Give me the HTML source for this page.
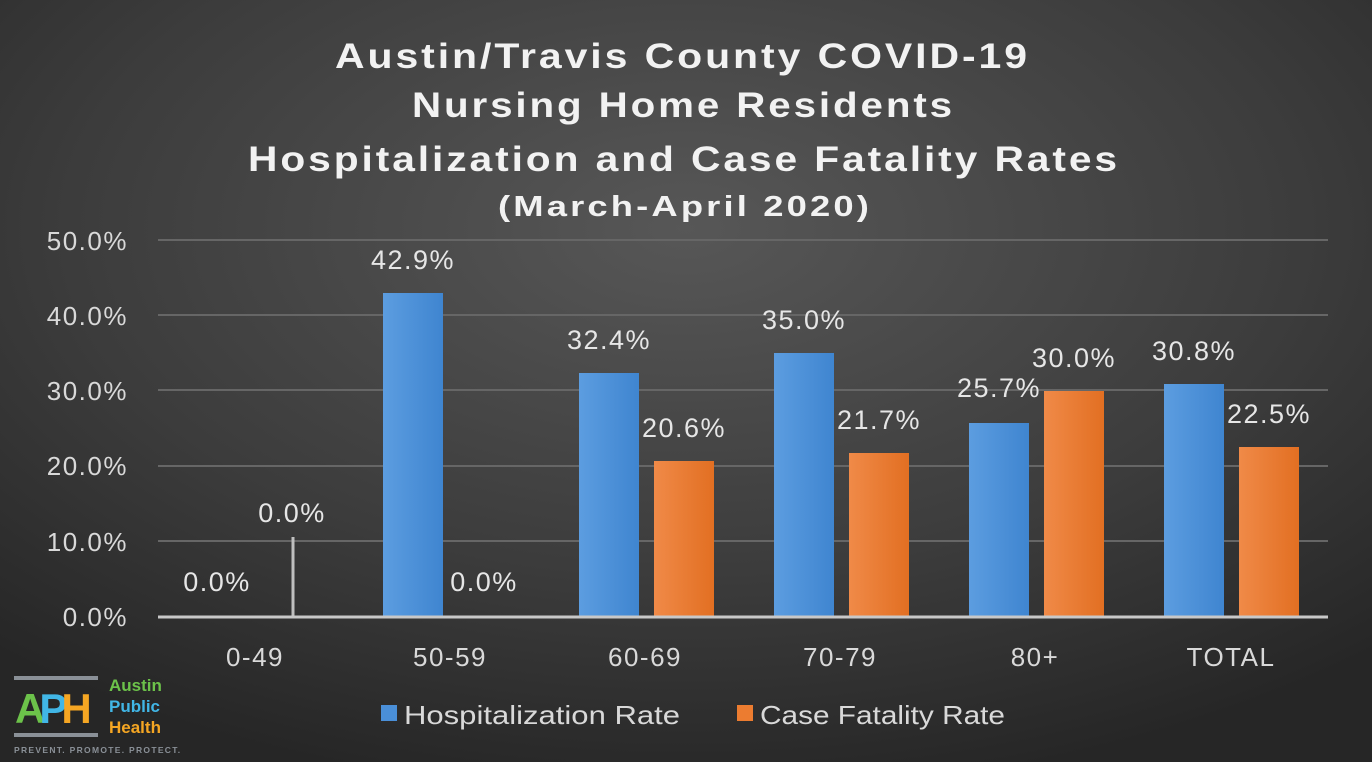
<!DOCTYPE html>
<html><head><meta charset="utf-8"><style>
html,body{margin:0;padding:0;width:1372px;height:762px;overflow:hidden;background:#333}
svg{display:block}
text{font-family:"Liberation Sans","DejaVu Sans",sans-serif}
</style></head><body>
<svg width="1372" height="762" viewBox="0 0 1372 762" xmlns="http://www.w3.org/2000/svg">
<defs>
<radialGradient id="bg" cx="0.5" cy="0.3" r="0.75">
<stop offset="0" stop-color="#575757"/><stop offset="0.6" stop-color="#3c3c3c"/><stop offset="1" stop-color="#262626"/>
</radialGradient>
<linearGradient id="bl" x1="0" y1="0" x2="1" y2="0"><stop offset="0" stop-color="#5c9de0"/><stop offset="1" stop-color="#3f85d0"/></linearGradient>
<linearGradient id="or" x1="0" y1="0" x2="1" y2="0"><stop offset="0" stop-color="#f08a48"/><stop offset="1" stop-color="#e26f22"/></linearGradient>
</defs>
<rect width="1372" height="762" fill="url(#bg)"/>
<g fill="#f2f2f2" font-weight="bold" letter-spacing="2.5">
<text x="335" y="68" font-size="35" textLength="695" lengthAdjust="spacingAndGlyphs">Austin/Travis County COVID-19</text>
<text x="412" y="117" font-size="35" textLength="543" lengthAdjust="spacingAndGlyphs">Nursing Home Residents</text>
<text x="248" y="171" font-size="35" textLength="872" lengthAdjust="spacingAndGlyphs">Hospitalization and Case Fatality Rates</text>
<text x="498" y="216" font-size="29" textLength="374" lengthAdjust="spacingAndGlyphs">(March-April 2020)</text>
</g>
<g stroke="#666" stroke-width="2">
<line x1="158" y1="240" x2="1328" y2="240"/><line x1="158" y1="315" x2="1328" y2="315"/>
<line x1="158" y1="390" x2="1328" y2="390"/><line x1="158" y1="466" x2="1328" y2="466"/>
<line x1="158" y1="541" x2="1328" y2="541"/>
</g>
<g fill="#d9d9d9" font-size="26" text-anchor="end" letter-spacing="1.5">
<text x="128" y="250">50.0%</text><text x="128" y="325">40.0%</text><text x="128" y="400">30.0%</text>
<text x="128" y="475">20.0%</text><text x="128" y="551">10.0%</text><text x="128" y="626">0.0%</text>
</g>
<line x1="293" y1="537" x2="293" y2="617" stroke="#bfbfbf" stroke-width="3"/>
<g fill="url(#bl)">
<rect x="383" y="293" width="60" height="324"/>
<rect x="579" y="373" width="60" height="244"/>
<rect x="774" y="353" width="60" height="264"/>
<rect x="969" y="423" width="60" height="194"/>
<rect x="1164" y="384" width="60" height="233"/>
</g>
<g fill="url(#or)">
<rect x="654" y="461" width="60" height="156"/>
<rect x="849" y="453" width="60" height="164"/>
<rect x="1044" y="391" width="60" height="226"/>
<rect x="1239" y="447" width="60" height="170"/>
</g>
<line x1="158" y1="617" x2="1328" y2="617" stroke="#c8c8c8" stroke-width="3"/>
<g fill="#e6e6e6" font-size="27" text-anchor="middle" letter-spacing="1.5">
<text x="217" y="591">0.0%</text><text x="292" y="522">0.0%</text>
<text x="413" y="269">42.9%</text><text x="484" y="591">0.0%</text>
<text x="609" y="349">32.4%</text><text x="684" y="437">20.6%</text>
<text x="804" y="329">35.0%</text><text x="879" y="429">21.7%</text>
<text x="999" y="397">25.7%</text><text x="1074" y="367">30.0%</text>
<text x="1194" y="360">30.8%</text><text x="1269" y="423">22.5%</text>
</g>
<g fill="#d9d9d9" font-size="26" text-anchor="middle" letter-spacing="1.5">
<text x="255" y="666">0-49</text><text x="450" y="666">50-59</text><text x="645" y="666">60-69</text>
<text x="840" y="666">70-79</text><text x="1035" y="666">80+</text><text x="1231" y="666">TOTAL</text>
</g>
<rect x="381" y="705" width="16" height="16" fill="#4a8fd8"/>
<text x="404" y="724" fill="#d9d9d9" font-size="26" textLength="276" lengthAdjust="spacingAndGlyphs">Hospitalization Rate</text>
<rect x="737" y="705" width="16" height="16" fill="#ec7c30"/>
<text x="760" y="724" fill="#d9d9d9" font-size="26" textLength="245" lengthAdjust="spacingAndGlyphs">Case Fatality Rate</text>
<!-- logo -->
<rect x="14" y="676" width="84" height="4" fill="#8a9097"/>
<rect x="14" y="733" width="84" height="4" fill="#8a9097"/>
<text x="15" y="723" font-size="42" font-weight="bold" fill="#6cc24a" letter-spacing="-6">A<tspan fill="#41b6e6">P</tspan><tspan fill="#f5a623">H</tspan></text>
<g font-size="17" font-weight="bold">
<text x="109" y="691" fill="#6cc24a">Austin</text>
<text x="109" y="712" fill="#41b6e6">Public</text>
<text x="109" y="733" fill="#f5a623">Health</text>
</g>
<text x="14" y="753" font-size="8.5" fill="#8a9097" letter-spacing="1.3" font-weight="bold">PREVENT. PROMOTE. PROTECT.</text>
</svg>
</body></html>
